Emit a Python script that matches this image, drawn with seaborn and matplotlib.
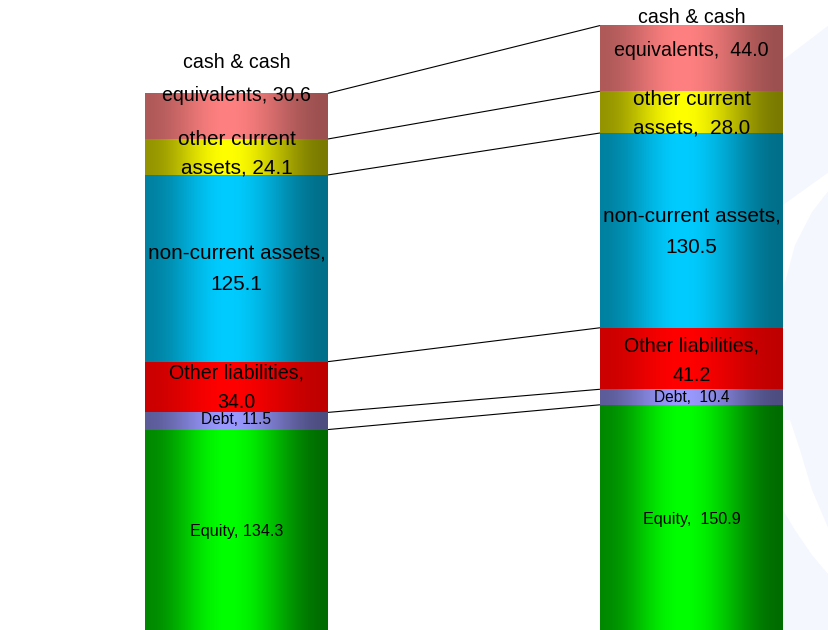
import numpy as np
import pandas as pd
import matplotlib
matplotlib.use("Agg")
import matplotlib.pyplot as plt
from matplotlib import font_manager
from matplotlib.colors import to_rgb
from matplotlib.patches import Polygon, Rectangle
import seaborn as sns

# ---- data -------------------------------------------------------------
periods = ["before", "after"]
components = ["Equity", "Debt", "Other liabilities", "non-current assets",
              "other current assets", "cash & cash equivalents"]
values_before = [134.3, 11.5, 34.0, 125.1, 24.1, 30.6]
values_after = [150.9, 10.4, 41.2, 130.5, 28.0, 44.0]

label_templates = ["Equity,{sep}{v:.1f}",
                   "Debt,{sep}{v:.1f}",
                   "Other liabilities,\n{v:.1f}",
                   "non-current assets,\n{v:.1f}",
                   "other current\nassets,{sep}{v:.1f}",
                   "cash & cash\nequivalents,{sep}{v:.1f}"]
label_seps = [" ", "  "]

# ---- styling ----------------------------------------------------------
light_colors = ["#00ff00", "#9999ff", "#ff0000", "#00ccff", "#ffff00", "#ff8080"]
dark_colors = ["#006c00", "#4d4d80", "#bf0000", "#006f8a", "#7a7a00", "#9c5050"]
font_sizes = [14, 13.5, 17, 18, 18, 17]
line_spacing = [1.15, 1.15, 1.72, 1.72, 1.64, 1.95]
# vertical nudges of each label (pixels, positive = upwards)
label_nudge = [[-1.5, 1, -1, -1, 3, 37.5],
               [-2.5, 0, -2, -2, -2, 24.5]]

W, H = 829, 630
PX_PER_UNIT = 1.4925
BAR_WIDTH = 183 / 455

sns.set_theme(style="white")
available = {f.name for f in font_manager.fontManager.ttflist}
if "Liberation Sans Narrow" in available:
    family, fscale = "Liberation Sans Narrow", 1.0
else:
    family, fscale = "Liberation Sans", 0.83
plt.rcParams["font.family"] = [family, "DejaVu Sans"]

fig = plt.figure(figsize=(W / 100, H / 100), dpi=100)
fig.patch.set_facecolor("white")

# decorative backdrop on the right-hand side
bg = fig.add_axes([0, 0, 1, 1], zorder=0)
bg.set_xlim(0, W)
bg.set_ylim(H, 0)
bg.axis("off")
bg.add_patch(Rectangle((783, 0), 46, H, facecolor="#f5f7fe", edgecolor="none"))
bg.add_patch(Polygon([(783, 0), (829, 0), (829, 25), (783, 60)],
                     facecolor="white", edgecolor="none"))
bg.add_patch(Polygon([(829, 172), (829, 190), (812, 212), (795, 245), (783, 290),
                      (783, 205)], facecolor="white", edgecolor="none"))
bg.add_patch(Polygon([(783, 420), (790, 420), (800, 450), (812, 490), (829, 530),
                      (829, 575), (812, 555), (795, 530), (783, 510)],
                     facecolor="white", edgecolor="none"))

ax = fig.add_axes([0, 0, 1, 1], zorder=1)
ax.patch.set_alpha(0)

# ---- stacked bars: draw cumulative totals from the top layer down -----
vals = np.array([values_before, values_after])
tops = np.cumsum(vals, axis=1)
bottoms = tops - vals
for i in range(len(components) - 1, -1, -1):
    df = pd.DataFrame({"period": periods, "top": tops[:, i]})
    sns.barplot(data=df, x="period", y="top", color=light_colors[i],
                saturation=1, width=BAR_WIDTH, errorbar=None,
                edgecolor="none", linewidth=0, ax=ax)

# horizontal shading of each segment (darker edges, bright left of centre)
t = np.linspace(0, 1, 256)
peak = 0.45
w = np.where(t < peak,
             0.8 * (0.5 + 0.5 * np.cos(np.pi * t / peak)),
             0.5 - 0.5 * np.cos(np.pi * (t - peak) / (1 - peak)))
for p in range(len(periods)):
    x0 = p - BAR_WIDTH / 2
    for i in range(len(components)):
        lo, hi = np.array(to_rgb(light_colors[i])), np.array(to_rgb(dark_colors[i]))
        grad = (lo[None, :] * (1 - w[:, None]) + hi[None, :] * w[:, None])[None, :, :]
        ax.imshow(grad, extent=[x0, x0 + BAR_WIDTH, bottoms[p, i], tops[p, i]],
                  aspect="auto", interpolation="bilinear", zorder=2)

# connector lines between matching boundaries of the two bars
for i in range(len(components)):
    ax.plot([0 + BAR_WIDTH / 2, 1 - BAR_WIDTH / 2], [tops[0, i], tops[1, i]],
            color="black", lw=0.8, zorder=3, solid_capstyle="butt")

# segment labels
for p in range(len(periods)):
    for i in range(len(components)):
        txt = label_templates[i].format(sep=label_seps[p], v=vals[p, i])
        y = (bottoms[p, i] + tops[p, i]) / 2 + label_nudge[p][i] / PX_PER_UNIT
        ax.text(p, y, txt, ha="center", va="center", multialignment="center",
                fontsize=font_sizes[i] * fscale, linespacing=line_spacing[i],
                color="black", zorder=4)

ax.set_xlim(-236.5 / 455, 1 + 137.5 / 455)
ax.set_ylim(0, H / PX_PER_UNIT)
ax.axis("off")

fig.savefig("out.png", dpi=100)
